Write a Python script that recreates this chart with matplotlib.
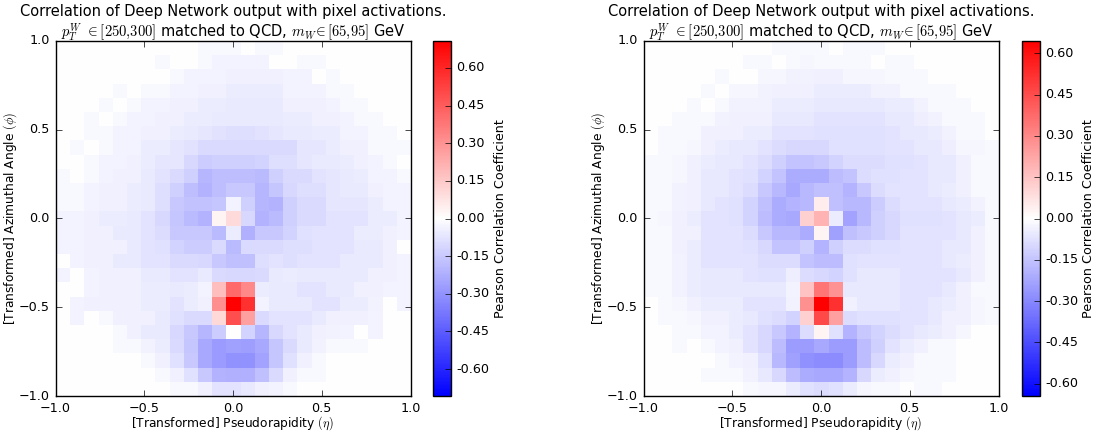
import numpy as np
import matplotlib
matplotlib.use("Agg")
import matplotlib.pyplot as plt

# 25x25 Pearson correlation maps, rows from top (phi=+1) to bottom (phi=-1), columns eta -1 -> +1
left_rows = [
 [0,0,0,0,0,0,0,0,0,0,-.02,-.02,-.02,0,-.02,-.02,0,0,0,0,0,0,0,0,0],
 [0,0,0,0,0,0,0,-.02,0,0,-.02,-.03,-.03,-.03,-.03,0,0,-.02,-.02,0,0,0,0,0,0],
 [0,0,0,0,0,0,0,0,-.02,-.03,-.03,-.03,-.04,-.04,-.04,-.04,-.03,-.03,0,-.02,0,0,0,0,0],
 [0,0,0,0,-.02,0,-.02,-.02,-.03,-.03,-.04,-.04,-.05,-.05,-.05,-.05,-.03,-.03,-.03,-.02,-.02,0,0,0,0],
 [0,0,0,-.02,0,-.02,-.03,-.03,-.04,-.04,-.05,-.05,-.06,-.06,-.06,-.06,-.04,-.04,-.04,-.03,-.02,-.02,0,0,0],
 [0,0,-.02,0,-.02,-.03,-.03,-.04,-.04,-.05,-.05,-.06,-.06,-.06,-.06,-.06,-.05,-.05,-.04,-.04,-.03,-.02,-.02,0,0],
 [0,0,-.02,-.02,-.03,-.03,-.04,-.04,-.05,-.06,-.07,-.08,-.09,-.09,-.08,-.07,-.06,-.06,-.05,-.05,-.03,-.03,-.02,-.02,0],
 [0,-.02,0,-.02,-.03,-.03,-.05,-.05,-.07,-.08,-.10,-.10,-.10,-.10,-.10,-.10,-.10,-.07,-.07,-.05,-.04,-.04,-.02,-.02,-.02],
 [0,0,-.02,-.03,-.03,-.04,-.05,-.07,-.07,-.11,-.14,-.13,-.13,-.13,-.12,-.09,-.09,-.07,-.06,-.06,-.05,-.04,-.03,-.02,0],
 [-.02,0,-.02,-.03,-.04,-.04,-.06,-.075,-.10,-.13,-.20,-.18,-.18,-.18,-.19,-.13,-.10,-.10,-.075,-.07,-.06,-.05,-.03,-.03,-.02],
 [-.02,-.02,-.03,-.04,-.04,-.05,-.06,-.09,-.13,-.18,-.21,-.18,-.15,-.15,-.20,-.16,-.11,-.09,-.09,-.07,-.06,-.06,-.04,-.03,-.03],
 [-.02,-.02,-.03,-.04,-.04,-.05,-.06,-.09,-.15,-.17,-.17,-.16,-.03,-.13,-.20,-.21,-.13,-.10,-.10,-.07,-.07,-.07,-.05,-.03,-.03],
 [-.03,-.03,-.04,-.05,-.05,-.06,-.075,-.11,-.16,-.19,-.21,.03,.10,-.11,-.21,-.19,-.13,-.10,-.10,-.075,-.075,-.075,-.05,-.05,-.03],
 [-.03,-.03,-.04,-.04,-.06,-.06,-.075,-.097,-.15,-.15,-.15,-.19,-.05,-.22,-.15,-.15,-.12,-.086,-.075,-.075,-.075,-.05,-.05,-.04,-.03],
 [-.03,-.03,-.04,-.04,-.04,-.06,-.075,-.086,-.12,-.14,-.14,-.10,-.19,-.10,-.10,-.10,-.09,-.09,-.075,-.075,-.075,-.06,-.06,-.04,0],
 [0,-.03,-.04,-.04,-.06,-.06,-.075,-.075,-.10,-.10,-.11,-.15,-.175,-.175,-.09,-.075,-.09,-.075,-.075,-.075,-.06,-.06,-.06,-.04,-.03],
 [-.03,0,-.03,-.04,-.04,-.04,-.06,-.06,-.075,-.075,-.06,-.10,-.11,-.11,-.10,-.06,-.05,-.06,-.06,-.06,-.06,-.06,-.04,-.04,-.03],
 [0,0,-.03,-.04,-.04,-.04,-.05,-.05,-.06,-.05,-.03,.18,.41,.33,-.05,-.06,-.06,-.075,-.075,-.06,-.06,-.04,-.04,-.03,-.03],
 [0,-.03,-.04,-.04,-.04,-.04,-.05,-.05,-.075,-.05,-.04,.31,.707,.57,-.03,-.06,-.06,-.06,-.075,-.075,-.05,-.05,-.036,0,-.03],
 [0,-.03,0,-.02,-.04,-.04,-.04,-.06,-.086,-.10,-.10,.11,.49,.26,-.10,-.075,-.075,-.075,-.06,-.04,-.04,-.04,-.03,0,0],
 [0,0,0,0,-.02,-.04,-.06,-.06,-.11,-.15,-.20,-.14,0,-.12,-.20,-.11,-.075,-.06,-.04,-.036,-.03,0,-.03,0,0],
 [0,0,0,0,-.02,-.02,-.036,-.05,-.10,-.16,-.24,-.28,-.26,-.27,-.24,-.16,-.10,-.06,-.036,-.02,-.02,-.02,0,0,0],
 [0,0,0,0,0,0,-.02,-.04,-.085,-.15,-.24,-.28,-.30,-.30,-.25,-.16,-.085,-.04,-.02,0,0,0,0,0,0],
 [0,0,0,0,0,0,0,-.02,-.04,-.085,-.15,-.21,-.22,-.22,-.175,-.10,-.04,-.02,-.02,0,0,0,0,0,0],
 [0,0,0,0,0,0,0,0,-.02,-.02,-.04,-.075,-.075,-.065,-.04,-.03,-.02,0,0,0,0,0,0,0,0],
]

right_rows = [
 [0,0,0,0,0,0,0,0,0,-.02,-.02,-.02,-.02,0,-.02,-.02,-.02,0,0,0,0,0,0,0,0],
 [0,0,0,0,0,0,0,-.02,-.02,0,-.02,-.025,-.02,-.02,-.02,-.02,0,-.02,-.02,0,0,0,0,0,0],
 [0,0,0,0,0,-.02,0,0,-.025,-.025,-.033,-.033,-.038,-.038,-.025,-.025,-.025,-.02,-.02,-.02,0,0,0,0,0],
 [0,0,0,0,-.02,0,-.025,-.025,-.033,-.038,-.038,-.038,-.048,-.048,-.048,-.048,-.033,-.033,-.02,-.02,-.02,-.02,0,0,0],
 [0,0,0,-.02,0,-.02,-.033,-.033,-.033,-.048,-.048,-.048,-.058,-.058,-.058,-.058,-.058,-.048,-.048,-.033,-.02,-.02,-.02,0,0],
 [0,0,-.02,-.02,-.02,-.033,-.038,-.038,-.038,-.058,-.058,-.058,-.068,-.068,-.068,-.068,-.068,-.058,-.058,-.043,-.033,-.02,-.02,-.02,0],
 [0,-.02,-.02,-.02,-.038,-.038,-.038,-.048,-.048,-.068,-.068,-.068,-.078,-.078,-.078,-.078,-.078,-.068,-.058,-.058,-.048,-.033,-.02,-.02,0],
 [0,-.02,-.02,-.025,-.038,-.048,-.058,-.058,-.068,-.089,-.099,-.099,-.099,-.078,-.078,-.078,-.078,-.068,-.068,-.058,-.058,-.043,-.025,-.025,-.02],
 [-.02,-.02,-.025,-.038,-.048,-.058,-.058,-.068,-.089,-.119,-.149,-.149,-.139,-.109,-.089,-.089,-.089,-.078,-.078,-.068,-.058,-.058,-.038,-.02,-.02],
 [-.02,-.02,-.025,-.038,-.058,-.058,-.068,-.078,-.109,-.149,-.21,-.21,-.21,-.17,-.149,-.089,-.078,-.078,-.068,-.068,-.058,-.058,-.038,-.02,-.02],
 [-.02,-.02,-.033,-.038,-.058,-.058,-.068,-.089,-.139,-.18,-.22,-.18,-.159,-.159,-.19,-.139,-.089,-.068,-.068,-.068,-.058,-.048,-.038,-.02,-.02],
 [-.02,-.02,-.033,-.038,-.058,-.068,-.078,-.109,-.159,-.21,-.19,-.18,.05,-.159,-.18,-.18,-.129,-.089,-.068,-.068,-.068,-.058,-.048,-.033,-.02],
 [-.02,-.025,-.038,-.048,-.068,-.068,-.078,-.109,-.17,-.21,-.22,.12,.19,-.048,-.23,-.18,-.119,-.099,-.078,-.078,-.078,-.068,-.058,-.048,-.02],
 [-.02,-.02,-.038,-.038,-.068,-.068,-.068,-.089,-.139,-.18,-.18,-.21,.03,-.24,-.159,-.139,-.119,-.099,-.068,-.068,-.068,-.068,-.058,-.038,-.02],
 [-.02,-.02,-.038,-.048,-.068,-.068,-.068,-.078,-.099,-.149,-.149,-.119,-.19,-.119,-.089,-.089,-.078,-.078,-.068,-.068,-.068,-.058,-.058,-.038,-.02],
 [-.02,-.02,-.033,-.048,-.068,-.068,-.068,-.068,-.089,-.089,-.089,-.149,-.17,-.17,-.078,-.068,-.068,-.068,-.068,-.068,-.068,-.058,-.048,-.038,-.02],
 [-.02,-.02,-.033,-.048,-.058,-.058,-.058,-.068,-.078,-.078,-.043,-.089,-.099,-.109,-.078,-.058,-.058,-.058,-.068,-.068,-.068,-.068,-.058,-.038,-.02],
 [-.02,-.02,-.033,-.048,-.058,-.058,-.058,-.058,-.058,-.058,-.028,.15,.35,.27,-.058,-.058,-.058,-.058,-.068,-.068,-.068,-.058,-.038,-.02,-.02],
 [0,-.02,-.025,-.038,-.048,-.048,-.048,-.068,-.068,-.068,-.033,.28,.645,.52,-.038,-.058,-.058,-.058,-.068,-.068,-.058,-.048,-.038,-.025,-.02],
 [0,-.02,-.02,-.025,-.038,-.038,-.048,-.058,-.078,-.089,-.109,.12,.46,.24,-.089,-.078,-.078,-.078,-.068,-.068,-.058,-.038,-.038,-.025,-.02],
 [0,0,-.02,-.02,-.028,-.028,-.048,-.068,-.099,-.139,-.19,-.089,.03,-.078,-.19,-.139,-.109,-.089,-.068,-.058,-.048,-.038,-.025,0,0],
 [0,0,-.02,0,-.02,-.028,-.038,-.068,-.099,-.17,-.25,-.25,-.22,-.25,-.25,-.17,-.119,-.068,-.048,-.038,-.02,-.02,0,0,0],
 [0,0,0,0,0,-.02,-.028,-.038,-.078,-.18,-.24,-.28,-.29,-.29,-.25,-.17,-.099,-.048,-.038,-.02,-.02,-.02,0,0,0],
 [0,0,0,0,-.02,-.02,-.02,-.033,-.058,-.099,-.17,-.21,-.22,-.22,-.19,-.099,-.048,-.038,-.025,-.02,-.02,-.02,0,0,0],
 [0,0,0,0,0,0,0,-.02,-.025,-.025,-.048,-.078,-.089,-.078,-.048,-.025,-.02,-.02,0,-.02,-.02,0,0,0,0],
]

cbar_ticks = [-0.60, -0.45, -0.30, -0.15, 0.00, 0.15, 0.30, 0.45, 0.60]
axis_ticks = [-1.0, -0.5, 0.0, 0.5, 1.0]
title_line1 = "Correlation of Deep Network output with pixel activations."
title_line2 = r"$p_T^W$ $\in[250{,}300]$ matched to QCD, $m_W\!\in[65{,}95]$ GeV"

plt.style.use("classic")
plt.rcParams["font.family"] = ["DejaVu Sans"]
plt.rcParams["mathtext.fontset"] = "cm"

fig = plt.figure(figsize=(10.97, 4.32), dpi=100, facecolor="white")
W, H = 1097.0, 432.0

panels = [
    (left_rows, 55.5, 433.0),
    (right_rows, 643.5, 1021.5),
]
for rows, ax_x, cb_x in panels:
    data = np.array(rows, dtype=float)
    vmax = np.abs(data).max()
    ax = fig.add_axes([ax_x / W, 1 - 396 / H, 355 / W, 355 / H])
    im = ax.imshow(data, cmap="bwr", vmin=-vmax, vmax=vmax, interpolation="nearest",
                   extent=[-1, 1, -1, 1], origin="upper", aspect="auto")
    ax.set_xticks(axis_ticks)
    ax.set_yticks(axis_ticks)
    ax.tick_params(labelsize=9.2, direction="in", top=True, right=True, length=4)
    ax.set_xlabel(r"[Transformed] Pseudorapidity $(\eta)$", fontsize=8.8, labelpad=0)
    ax.set_ylabel(r"[Transformed] Azimuthal Angle $(\phi)$", fontsize=8.8, labelpad=0)
    ax.set_title(title_line2, fontsize=10.5, pad=3)
    ax.annotate(title_line1, xy=(0.5, 1.0), xycoords="axes fraction",
                xytext=(0, 16), textcoords="offset points",
                ha="center", va="bottom", fontsize=10.5)
    cax = fig.add_axes([cb_x / W, 1 - 396 / H, 18 / W, 355 / H])
    cb = fig.colorbar(im, cax=cax, ticks=cbar_ticks, format="%.2f")
    cb.ax.tick_params(labelsize=9.2, direction="in", length=4)
    cb.set_label("Pearson Correlation Coefficient", fontsize=9.2, labelpad=3)
    cb.outline.set_linewidth(1.0)

fig.savefig("out.png", dpi=100, facecolor="white")
